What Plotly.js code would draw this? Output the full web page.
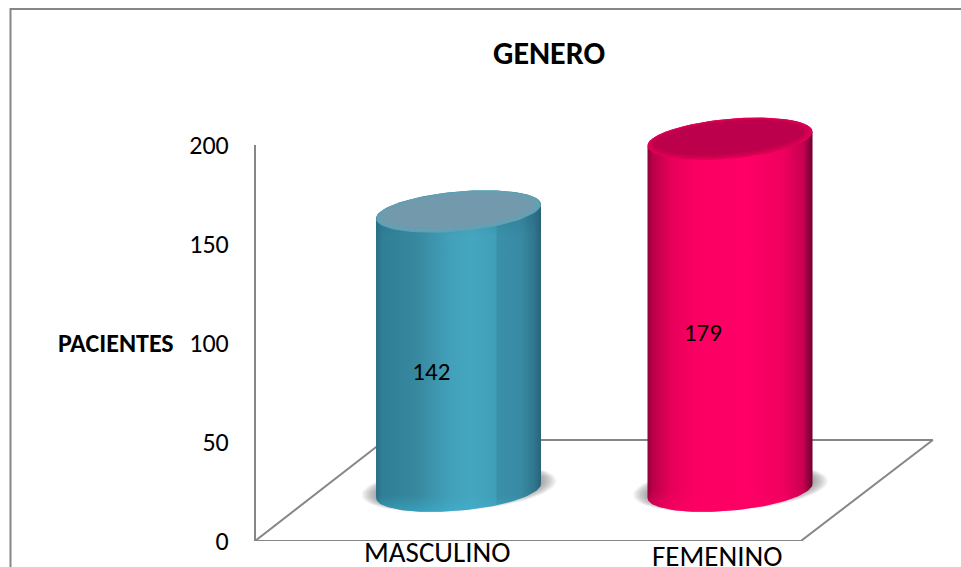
<!DOCTYPE html>
<html>
<head>
<meta charset="utf-8">
<script src="https://cdn.plot.ly/plotly-3.0.1.min.js"></script>
<style>html,body{margin:0;padding:0;background:#fff;overflow:hidden}</style>
</head>
<body>
<div id="chart" style="width:961px;height:567px"></div>
<script>
// Chart data
const categories = ["MASCULINO", "FEMENINO"];
const values = [142, 179];
const yTicks = [0, 50, 100, 150, 200];
const chartTitle = "GENERO";
const yAxisLabel = "PACIENTES";

// Label placement: x in category units, y as a share of the column height
const categoryLabelX = [-0.08, -0.048];
const categoryLabelDrop = [11, 15];
const valueLabelX = -0.1;
const valueLabelShare = [0.417, 0.439];

// Pseudo-3D scene, in axis units
const unitX = 271.5, unitY = 1.98;       // pixels per axis unit
const radiusX = 82.5 / unitX;
const radiusY = 20 / unitY;
const tilt = 7 / unitY;                  // ellipses rise towards the right
const floorDepth = 51;                   // height of the floor's back edge
const columnBase = 25.4;                 // column centre on the floor
const depthScale = 0.993;                // foreshortening of the columns
const wallX = -0.7495, frontRightX = 1.261, backRightX = 1.747, backLeftX = -0.27;

const frameColor = "#868686";
const fontFace = "Carlito, Lato, 'Open Sans', sans-serif";

const bodyGradients = [
  [[0, "#2a6f86"], [0.04, "#2f7f96"], [0.25, "#37899f"], [0.45, "#42a0ba"], [0.58, "#45a6c0"],
   [0.725, "#409eb8"], [0.735, "#3a90a9"], [0.88, "#388aa3"], [0.96, "#30768e"], [1, "#2a6278"]],
  [[0, "#8e0038"], [0.03, "#b80049"], [0.14, "#e60059"], [0.3, "#fb0063"], [0.6, "#ff0066"],
   [0.82, "#f00060"], [0.94, "#cb0052"], [1, "#6e0030"]]
];
// Vertical shading laid over each body: lit foot, darker shoulder
const bodyShading = [
  [[0, "rgba(60,180,215,0.5)"], [0.05, "rgba(60,180,215,0)"], [0.86, "rgba(30,90,115,0)"], [0.93, "rgba(30,90,115,0.22)"], [1, "rgba(30,90,115,0.22)"]],
  [[0, "rgba(255,0,100,0.6)"], [0.06, "rgba(255,0,100,0)"], [0.9, "rgba(150,0,60,0)"], [1, "rgba(150,0,60,0.15)"]]
];
const capRamps = [
  ["#5f9fb2", "#64a1b3", "#699eb1", "#6e9baf", "#7399ad"],
  ["#e00054", "#d60052", "#cd0050", "#c4004e", "#bd004c"]
];

// Points of a tilted ellipse between two angles (degrees)
function arc(cx, cy, rx, ry, sh, from, to) {
  const xs = [], ys = [];
  const steps = 72;
  for (let i = 0; i <= steps; i++) {
    const t = (from + (to - from) * i / steps) * Math.PI / 180;
    xs.push(cx + rx * Math.cos(t));
    ys.push(cy + ry * Math.sin(t) + sh * Math.cos(t));
  }
  return {xs, ys};
}

function filled(xs, ys, extra) {
  return Object.assign({
    type: "scatter", mode: "lines", x: xs, y: ys, fill: "toself",
    line: {width: 0}, hoverinfo: "skip", showlegend: false, cliponaxis: false
  }, extra);
}

function edge(xs, ys) {
  return {
    type: "scatter", mode: "lines", x: xs, y: ys, hoverinfo: "skip", showlegend: false,
    cliponaxis: false, line: {color: frameColor, width: 2}
  };
}

const traces = [
  edge([wallX, wallX], [0, 200]),
  edge([wallX, frontRightX, backRightX, backLeftX], [0, 0, floorDepth, floorDepth]),
  edge([wallX, backLeftX], [0, floorDepth])
];

values.forEach((value, i) => {
  const top = columnBase + value * depthScale;

  // Soft floor shadow, built from translucent rings
  for (let k = 0; k < 9; k++) {
    const grow = 1 + (8 - k) * 0.02;
    const s = arc(i + 0.002, columnBase + 1.4, radiusX * grow + 0.006, radiusY * grow, tilt, 0, 360);
    traces.push(filled(s.xs, s.ys, {fillcolor: "rgba(100,100,100,0.08)"}));
  }

  // Column body
  const low = arc(i, columnBase, radiusX, radiusY, tilt, 180, 360);
  const high = arc(i, top, radiusX, radiusY, tilt, 0, 180);
  const bodyX = low.xs.concat(high.xs), bodyY = low.ys.concat(high.ys);
  traces.push(filled(bodyX, bodyY, {
    fillgradient: {type: "horizontal", colorscale: bodyGradients[i]},
    fillcolor: capRamps[i][0]
  }));
  traces.push(filled(bodyX, bodyY, {
    fillgradient: {type: "vertical", colorscale: bodyShading[i]},
    fillcolor: "rgba(0,0,0,0)"
  }));

  // Top cap, shaded from rim to centre
  capRamps[i].forEach((color, k) => {
    const f = k / (capRamps[i].length - 1);
    const cap = arc(i - 0.005 * f, top + 0.6 * f, radiusX * (1 - 0.09 * f), radiusY * (1 - 0.2 * f), tilt * (1 - 0.1 * f), 0, 360);
    traces.push(filled(cap.xs, cap.ys, {fillcolor: color}));
  });
});

// Value labels on the columns
traces.push({
  type: "scatter", mode: "text", hoverinfo: "skip", showlegend: false, cliponaxis: false,
  x: values.map((_, i) => i + valueLabelX),
  y: values.map((v, i) => columnBase + v * valueLabelShare[i]),
  text: values.map(String),
  textposition: "middle center",
  textfont: {family: fontFace, size: 25, color: "#000"}
});

const plotHeight = 541;
const left = 236, width = 961;
const annotations = categories.map((name, i) => ({
  text: name, xref: "x", yref: "paper", x: i + categoryLabelX[i],
  y: -categoryLabelDrop[i] / plotHeight, yanchor: "middle", showarrow: false,
  font: {family: fontFace, size: 29, color: "#000"}
}));
annotations.push({
  text: "<b>" + yAxisLabel + "</b>", xref: "paper", yref: "y", x: (116 - left) / (width - left),
  y: 100, xanchor: "center", yanchor: "middle", showarrow: false,
  font: {family: fontFace, size: 26, color: "#000"}
});

const layout = {
  width: 961, height: 567,
  margin: {l: left, r: 0, t: 0, b: 567 - plotHeight, pad: 0},
  paper_bgcolor: "#fff", plot_bgcolor: "rgba(0,0,0,0)",
  showlegend: false,
  title: {
    text: "<b>" + chartTitle + "</b>", xref: "container", yref: "container",
    x: 549 / 961, y: 1 - 53 / 567, xanchor: "center", yanchor: "middle",
    font: {family: fontFace, size: 32, color: "#000"}
  },
  xaxis: {
    range: [(left - 458.5) / unitX, (width - 458.5) / unitX],
    showgrid: false, zeroline: false, showline: false, ticks: "", showticklabels: false,
    fixedrange: true
  },
  yaxis: {
    range: [0, plotHeight / unitY],
    tickmode: "array", tickvals: yTicks, ticktext: yTicks.map(String),
    showgrid: false, zeroline: false, showline: false,
    ticks: "outside", ticklen: 1, tickcolor: "rgba(0,0,0,0)",
    tickfont: {family: fontFace, size: 26, color: "#000"},
    automargin: false, fixedrange: true
  },
  shapes: [{
    type: "path", xref: "paper", yref: "paper",
    path: "M " + ((10.5 - left) / (width - left)) + " " + ((plotHeight - 567) / plotHeight) +
          " L " + ((10.5 - left) / (width - left)) + " " + ((plotHeight - 9) / plotHeight) +
          " L 1 " + ((plotHeight - 9) / plotHeight),
    line: {color: frameColor, width: 2}
  }],
  annotations: annotations
};

Plotly.newPlot("chart", traces, layout, {displayModeBar: false, staticPlot: true});
</script>
</body>
</html>
